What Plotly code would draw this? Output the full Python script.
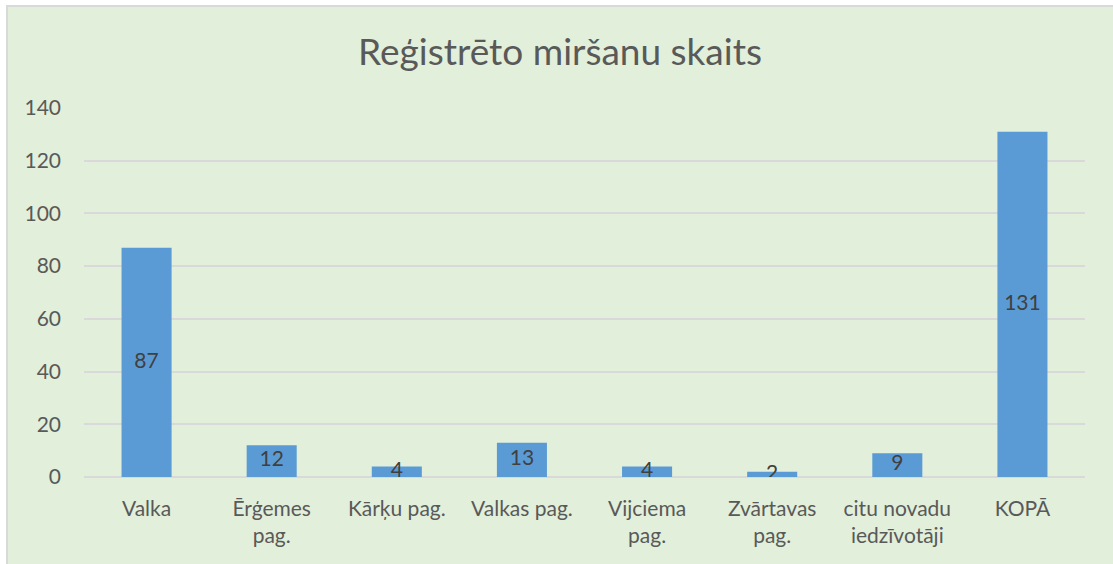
import plotly.graph_objects as go

categories = ["Valka", "Ērģemes<br>pag.", "Kārķu pag.", "Valkas pag.", "Vijciema<br>pag.",
              "Zvārtavas<br>pag.", "citu novadu<br>iedzīvotāji", "KOPĀ"]
values = [87, 12, 4, 13, 4, 2, 9, 131]
y_ticks = [0, 20, 40, 60, 80, 100, 120, 140]
title_text = "Reģistrēto miršanu skaits"

FONT = "Lato, Carlito, 'Open Sans', sans-serif"
W, H = 1113, 564
ml, mr, mt, mb = 84, 28, 108, 87
pw, ph = W - ml - mr, H - mt - mb

fig = go.Figure()
fig.add_trace(go.Bar(x=categories, y=values, marker=dict(color="#5B9BD5", line=dict(width=0)),
                     hoverinfo="x+y", showlegend=False))
fig.add_trace(go.Scatter(x=categories, y=[v / 2 for v in values], mode="text",
                         text=[str(v) for v in values],
                         textfont=dict(family=FONT, size=21, color="#404040"),
                         hoverinfo="skip", showlegend=False))

def px_x(p):
    return (p - ml) / pw

def px_y(p):
    return (H - mb - p) / ph

fig.add_shape(type="rect", xref="paper", yref="paper",
              x0=px_x(7), x1=px_x(W + 10), y0=px_y(6), y1=px_y(H + 10),
              fillcolor="#E2EFDA", line=dict(color="#D9D9D9", width=2), layer="below")

fig.update_layout(
    width=W, height=H,
    margin=dict(l=ml, r=mr, t=mt, b=mb),
    paper_bgcolor="white", plot_bgcolor="rgba(0,0,0,0)",
    bargap=0.6,
    title=dict(text=title_text, x=px_x(560), xref="paper", xanchor="center",
               y=1 - 52 / H, yanchor="middle", yref="container",
               font=dict(family=FONT, size=37, color="#595959")),
    font=dict(family=FONT, color="#595959"),
    xaxis=dict(showgrid=False, showline=False, zeroline=False,
               tickfont=dict(size=21, color="#595959"), ticks="", ticklabelstandoff=17),
    yaxis=dict(range=[0, 140], tickvals=y_ticks, showgrid=True, gridcolor="#D9D9D9", gridwidth=1.5,
               zeroline=True, zerolinecolor="#D9D9D9", zerolinewidth=1.5, showline=False,
               tickfont=dict(size=21, color="#595959"), ticks="", ticklabelstandoff=22),
)

fig.write_html("out.html", config={"displayModeBar": False},
               post_script="document.body.style.margin='0';")
